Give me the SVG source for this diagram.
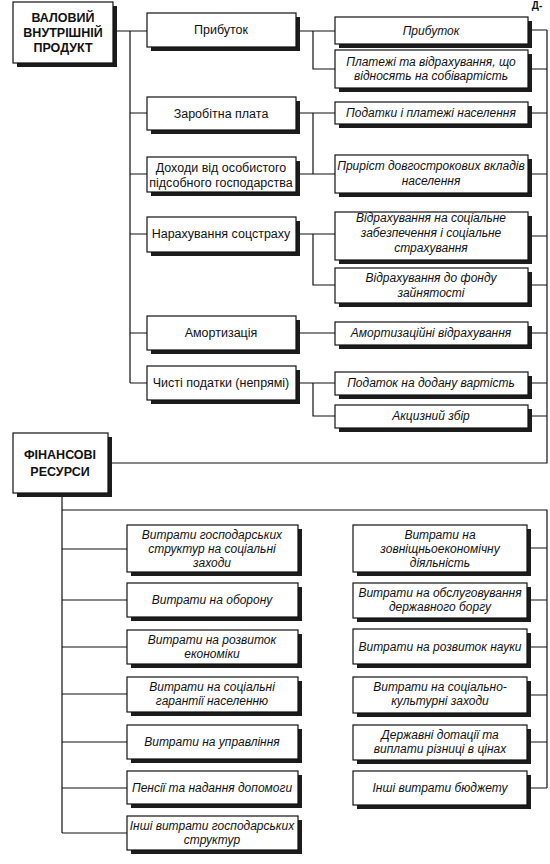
<svg xmlns="http://www.w3.org/2000/svg" width="550" height="864" viewBox="0 0 550 864">
<style>
.sh{fill:#1c1c1c}
.bx{fill:#fff;stroke:#111;stroke-width:1.2}
.t{font-family:"Liberation Sans",Arial,sans-serif;font-size:12.5px;fill:#111;text-anchor:middle}
.i{font-family:"Liberation Sans",Arial,sans-serif;font-size:12px;font-style:italic;fill:#111;text-anchor:middle}
.b{font-family:"Liberation Sans",Arial,sans-serif;font-size:12.5px;font-weight:bold;fill:#111;text-anchor:middle}
.c{fill:none;stroke:#111;stroke-width:1.2}
</style>
<rect width="550" height="864" fill="#fff"/>
<text x="537" y="9" class="b" style="font-size:10px">Д-</text>
<g id="connectors" class="c">
<path d="M113,31 H147 M130,31 V383 M130,113 H147 M130,174 H147 M130,234 H147 M130,333 H147 M130,383 H147"/>
<path d="M296,31 H335 M313,31 V69 H335 M296,113 H335 M313,113 V174 M296,174 H335 M296,234 H335 M313,234 V285 H335 M296,333 H335 M296,383 H335 M313,383 V416 H335"/>
<path d="M528,30 H547 M528,69 H547 M528,113 H547 M528,174 H547 M528,236 H547 M528,285 H547 M528,333 H547 M528,383 H547 M528,416 H547 M547,30 V463 H108"/>
<path d="M62,493 V833 M62,510 H547 V788 M62,549 H127 M62,600 H127 M62,647 H127 M62,694 H127 M62,742 H127 M62,788 H127 M62,833 H127"/>
<path d="M527,548 H547 M527,600 H547 M527,647 H547 M527,695 H547 M527,742 H547 M527,788 H547"/>
</g>
<g id="vvp"><rect class="sh" x="17" y="6" width="100" height="61"/><rect class="bx" x="13" y="2" width="100" height="61"/>
<text class="b" x="63" y="22">ВАЛОВИЙ</text><text class="b" x="63" y="37">ВНУТРІШНІЙ</text><text class="b" x="63" y="52">ПРОДУКТ</text></g>
<g id="n-prybutok"><rect class="sh" x="151" y="17" width="149" height="34"/><rect class="bx" x="147" y="13" width="149" height="34"/><text class="t" x="221" y="34">Прибуток</text></g>
<g id="n-zarplata"><rect class="sh" x="151" y="101" width="149" height="33"/><rect class="bx" x="147" y="97" width="149" height="33"/><text class="t" x="221" y="118">Заробітна плата</text></g>
<g id="n-dokhody"><rect class="sh" x="151" y="161" width="149" height="35"/><rect class="bx" x="147" y="157" width="149" height="35"/><text class="t" x="221" y="172">Доходи від особистого</text><text class="t" x="221" y="187">підсобного господарства</text></g>
<g id="n-soc"><rect class="sh" x="151" y="221" width="149" height="35"/><rect class="bx" x="147" y="217" width="149" height="35"/><text class="t" x="221" y="238">Нарахування соцстраху</text></g>
<g id="n-amort"><rect class="sh" x="151" y="320" width="149" height="34"/><rect class="bx" x="147" y="316" width="149" height="34"/><text class="t" x="221" y="337">Амортизація</text></g>
<g id="n-podatky"><rect class="sh" x="151" y="370" width="149" height="34"/><rect class="bx" x="147" y="366" width="149" height="34"/><text class="t" x="221" y="387">Чисті податки (непрямі)</text></g>
<g id="r-prybutok"><rect class="sh" x="339" y="21" width="193" height="27"/><rect class="bx" x="335" y="17" width="193" height="27"/><text class="i" x="431" y="35">Прибуток</text></g>
<g id="r-platezhi"><rect class="sh" x="339" y="54" width="193" height="38"/><rect class="bx" x="335" y="50" width="193" height="38"/><text class="i" x="431" y="66">Платежі та відрахування, що</text><text class="i" x="431" y="80">відносять на собівартість</text></g>
<g id="r-podatky-nas"><rect class="sh" x="339" y="106" width="193" height="22"/><rect class="bx" x="335" y="102" width="193" height="22"/><text class="i" x="431" y="117">Податки і платежі населення</text></g>
<g id="r-pryrist"><rect class="sh" x="339" y="159" width="193" height="38"/><rect class="bx" x="335" y="155" width="193" height="38"/><text class="i" x="431" y="170">Приріст довгострокових вкладів</text><text class="i" x="431" y="185">населення</text></g>
<g id="r-vidr-soc"><rect class="sh" x="339" y="216" width="193" height="48"/><rect class="bx" x="335" y="212" width="193" height="48"/><text class="i" x="431" y="222">Відрахування на соціальне</text><text class="i" x="431" y="237">забезпечення і соціальне</text><text class="i" x="431" y="252">страхування</text></g>
<g id="r-vidr-fond"><rect class="sh" x="339" y="272" width="193" height="35"/><rect class="bx" x="335" y="268" width="193" height="35"/><text class="i" x="431" y="282">Відрахування до фонду</text><text class="i" x="431" y="297">зайнятості</text></g>
<g id="r-amort"><rect class="sh" x="339" y="326" width="193" height="23"/><rect class="bx" x="335" y="322" width="193" height="23"/><text class="i" x="431" y="337">Амортизаційні відрахування</text></g>
<g id="r-pdv"><rect class="sh" x="339" y="376" width="193" height="23"/><rect class="bx" x="335" y="372" width="193" height="23"/><text class="i" x="431" y="387">Податок на додану вартість</text></g>
<g id="r-akcyz"><rect class="sh" x="339" y="409" width="193" height="23"/><rect class="bx" x="335" y="405" width="193" height="23"/><text class="i" x="431" y="420">Акцизний збір</text></g>
<g id="fin"><rect class="sh" x="17" y="437" width="95" height="60"/><rect class="bx" x="13" y="433" width="95" height="60"/>
<text class="b" x="60" y="459">ФІНАНСОВІ</text><text class="b" x="60" y="476">РЕСУРСИ</text></g>
<g id="l1"><rect class="sh" x="131" y="529" width="171" height="47"/><rect class="bx" x="127" y="525" width="171" height="47"/><text class="i" x="212" y="539">Витрати господарських</text><text class="i" x="212" y="553">структур на соціальні</text><text class="i" x="212" y="567">заходи</text></g>
<g id="l2"><rect class="sh" x="131" y="587" width="171" height="34"/><rect class="bx" x="127" y="583" width="171" height="34"/><text class="i" x="212" y="604">Витрати на оборону</text></g>
<g id="l3"><rect class="sh" x="131" y="634" width="171" height="34"/><rect class="bx" x="127" y="630" width="171" height="34"/><text class="i" x="212" y="644">Витрати на розвиток</text><text class="i" x="212" y="658">економіки</text></g>
<g id="l4"><rect class="sh" x="131" y="681" width="171" height="35"/><rect class="bx" x="127" y="677" width="171" height="35"/><text class="i" x="212" y="691">Витрати на соціальні</text><text class="i" x="212" y="705">гарантії населенню</text></g>
<g id="l5"><rect class="sh" x="131" y="729" width="171" height="34"/><rect class="bx" x="127" y="725" width="171" height="34"/><text class="i" x="212" y="746">Витрати на управління</text></g>
<g id="l6"><rect class="sh" x="131" y="775" width="171" height="33"/><rect class="bx" x="127" y="771" width="171" height="33"/><text class="i" x="212" y="792">Пенсії та надання допомоги</text></g>
<g id="l7"><rect class="sh" x="131" y="820" width="171" height="34"/><rect class="bx" x="127" y="816" width="171" height="34"/><text class="i" x="212" y="830">Інші витрати господарських</text><text class="i" x="212" y="844">структур</text></g>
<g id="r1"><rect class="sh" x="357" y="529" width="174" height="47"/><rect class="bx" x="353" y="525" width="174" height="47"/><text class="i" x="440" y="539">Витрати на</text><text class="i" x="440" y="553">зовніщньоекономічну</text><text class="i" x="440" y="567">діяльність</text></g>
<g id="r2"><rect class="sh" x="357" y="587" width="174" height="35"/><rect class="bx" x="353" y="583" width="174" height="35"/><text class="i" x="440" y="597">Витрати на обслуговування</text><text class="i" x="440" y="611">державного боргу</text></g>
<g id="r3"><rect class="sh" x="357" y="633" width="174" height="35"/><rect class="bx" x="353" y="629" width="174" height="35"/><text class="i" x="440" y="651">Витрати на розвиток науки</text></g>
<g id="r4"><rect class="sh" x="357" y="681" width="174" height="36"/><rect class="bx" x="353" y="677" width="174" height="36"/><text class="i" x="440" y="691">Витрати на соціально-</text><text class="i" x="440" y="705">культурні заходи</text></g>
<g id="r5"><rect class="sh" x="357" y="729" width="174" height="35"/><rect class="bx" x="353" y="725" width="174" height="35"/><text class="i" x="440" y="739">Державні дотації та</text><text class="i" x="440" y="753">виплати різниці в цінах</text></g>
<g id="r6"><rect class="sh" x="357" y="775" width="174" height="34"/><rect class="bx" x="353" y="771" width="174" height="34"/><text class="i" x="440" y="792">Інші витрати бюджету</text></g>
</svg>
